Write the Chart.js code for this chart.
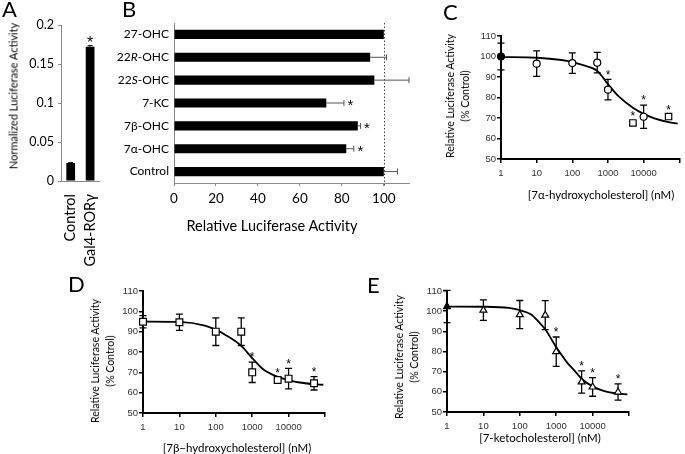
<!DOCTYPE html>
<html><head><meta charset="utf-8">
<script src="https://cdn.jsdelivr.net/npm/chart.js@4"></script>
<style>
html,body{margin:0;padding:0;background:#fff;}
body{width:685px;height:454px;position:relative;overflow:hidden;font-family:Lato,"Liberation Sans",sans-serif;color:#000;}
canvas{position:absolute;}
.t{position:absolute;white-space:nowrap;line-height:1;}
.c{transform:translate(-50%,-50%);}
.r{transform:translate(-50%,-50%) rotate(-90deg);text-align:center;}
.lt{font-size:22px;}
</style></head><body>
<canvas id="cA" width="115" height="275" style="left:0;top:0;width:115px;height:275px"></canvas>
<canvas id="cB" width="302" height="240" style="left:110px;top:0;width:302px;height:240px"></canvas>
<canvas id="cC" width="285" height="215" style="left:400px;top:0;width:285px;height:215px"></canvas>
<canvas id="cD" width="340" height="204" style="left:0;top:250px;width:340px;height:204px"></canvas>
<canvas id="cE" width="345" height="204" style="left:340px;top:250px;width:345px;height:204px"></canvas>

<div class="t lt" style="left:2px;top:-1.7px">A</div>
<div class="t lt" style="left:122px;top:-1.7px">B</div>
<div class="t lt" style="left:443px;top:1.3px">C</div>
<div class="t lt" style="left:68px;top:273.3px">D</div>
<div class="t lt" style="left:367px;top:274.3px">E</div>

<div class="t r" style="left:12.5px;top:96px;font-size:11px">Normalized Luciferase Activity</div>
<div class="t c" style="left:272px;top:226px;font-size:14.5px">Relative Luciferase Activity</div>
<div class="t r" style="left:457.5px;top:96px;font-size:10.5px;line-height:15px">Relative Luciferase Activity<br>(% Control)</div>
<div class="t c" style="left:601px;top:195px;font-size:11.5px">[7α-hydroxycholesterol] (nM)</div>
<div class="t r" style="left:102.5px;top:361px;font-size:10.5px;line-height:15px">Relative Luciferase Activity<br>(% Control)</div>
<div class="t c" style="left:237px;top:448px;font-size:11.5px">[7β−hydroxycholesterol] (nM)</div>
<div class="t r" style="left:407px;top:357px;font-size:10.5px;line-height:15px">Relative Luciferase Activity<br>(% Control)</div>
<div class="t c" style="left:540px;top:438px;font-size:11.5px">[7-ketocholesterol] (nM)</div>

<script>
// ---------- Data ----------
const aCategories = ['Control', 'Gal4-RORγ'];
const aValues = [0.023, 0.172];
const aErrors = [0.0006, 0.0015];
const aSignificant = [false, true];
const aTicks = [0, 0.05, 0.1, 0.15, 0.2];

const bCategories = ['27-OHC', '22R-OHC', '22S-OHC', '7-KC', '7β-OHC', '7α-OHC', 'Control'];
const bValues = [100, 93.5, 95.5, 72.6, 87.6, 82.1, 100];
const bErrors = [0, 7.8, 16.5, 8.4, 1.3, 3.6, 6.5];
const bSignificant = [false, false, false, true, true, true, false];
const bTicks = [0, 20, 40, 60, 80, 100];

const doseTicks = [1, 10, 100, 1000, 10000, 100000];
const doseLabels = ['1', '10', '100', '1000', '10000', ''];
const activityTicks = [50, 60, 70, 80, 90, 100, 110];

const cDoses = [1, 10, 100, 500, 1000, 5000, 10000, 50000];
const cValues = [100, 96.5, 96.8, 97, 83.8, 67.6, 70.6, 70.7];
const cErrors = [6.5, 6.2, 5, 5, 5, 1, 5.7, 1];
const cSignificant = [false, false, false, false, true, true, true, true];
const cFitDoses = [1, 10, 50, 100, 200, 500, 1000, 2000, 5000, 10000, 20000, 50000, 90000];
const cFitValues = [99.7, 99.4, 98.3, 97.3, 95.8, 93, 86.5, 80.5, 75, 72, 69.8, 68, 67.3];

const dDoses = [1, 10, 100, 500, 1000, 5000, 10000, 50000];
const dValues = [94.9, 94.6, 90, 90, 70, 66.2, 66.9, 64.6];
const dErrors = [3, 4, 6.8, 6.8, 5, 1, 5, 3.3];
const dSignificant = [false, false, false, false, true, true, true, true];
const dFitDoses = [1, 10, 50, 100, 200, 500, 1000, 2000, 5000, 10000, 20000, 50000, 90000];
const dFitValues = [95, 94.8, 93, 91, 88, 83, 77, 71.5, 67.8, 66.2, 65, 64.2, 63.9];

const eDoses = [1, 10, 100, 500, 1000, 5000, 10000, 50000];
const eValues = [102.3, 100.5, 98.3, 98, 79.9, 64.9, 62.4, 59.9];
const eErrors = [8, 5.1, 7, 7.2, 7.3, 5.5, 4.6, 4];
const eSignificant = [false, false, false, false, true, true, true, true];
const eFitDoses = [1, 10, 50, 100, 200, 360, 500, 1000, 2000, 3000, 5000, 10000, 20000, 50000, 90000];
const eFitValues = [102.3, 102.2, 101.6, 100.5, 98.5, 94, 91, 82.2, 74.5, 71, 66.5, 62.7, 60.5, 59.1, 58.7];

// ---------- Setup ----------
Chart.defaults.font.family = 'Lato, "Liberation Sans", sans-serif';
Chart.defaults.color = '#000';
Chart.defaults.animation = false;
Chart.defaults.events = [];
Chart.defaults.plugins.legend.display = false;
Chart.defaults.plugins.tooltip.enabled = false;

function valOf(d) { return (d !== null && typeof d === 'object') ? d.y : d; }

function drawErrors(chart, ds, meta) {
  const ctx = chart.ctx;
  const horizontal = chart.options.indexAxis === 'y';
  const vs = horizontal ? chart.scales.x : chart.scales.y;
  const cap = ds.errorCap || 3.5;
  ctx.save();
  ctx.strokeStyle = ds.errorColor || '#000';
  ctx.lineWidth = ds.errorWidth || 1.2;
  meta.data.forEach((el, i) => {
    const e = ds.errors[i];
    if (!e) return;
    const v = valOf(ds.data[i]);
    ctx.beginPath();
    if (horizontal) {
      const x0 = vs.getPixelForValue(v), x1 = vs.getPixelForValue(v + e);
      ctx.moveTo(x0, el.y); ctx.lineTo(x1, el.y);
      ctx.moveTo(x1, el.y - cap); ctx.lineTo(x1, el.y + cap);
    } else {
      const yTop = vs.getPixelForValue(v + e);
      const yBot = vs.getPixelForValue(ds.errorBoth ? v - e : v);
      ctx.moveTo(el.x, yTop); ctx.lineTo(el.x, yBot);
      ctx.moveTo(el.x - cap, yTop); ctx.lineTo(el.x + cap, yTop);
      if (ds.errorBoth) { ctx.moveTo(el.x - cap, yBot); ctx.lineTo(el.x + cap, yBot); }
    }
    ctx.stroke();
  });
  ctx.restore();
}

const errorBarPlugin = {
  id: 'errorBars',
  beforeDatasetDraw(chart, args) {
    const ds = chart.data.datasets[args.index];
    if (ds.errors && ds.errorsBehind) drawErrors(chart, ds, args.meta);
  },
  afterDatasetDraw(chart, args) {
    const ds = chart.data.datasets[args.index];
    if (ds.errors && !ds.errorsBehind) drawErrors(chart, ds, args.meta);
  }
};

const asteriskPlugin = {
  id: 'asterisks',
  afterDatasetsDraw(chart) {
    const ctx = chart.ctx;
    const horizontal = chart.options.indexAxis === 'y';
    const vs = horizontal ? chart.scales.x : chart.scales.y;
    chart.data.datasets.forEach((ds, di) => {
      if (!ds.significant) return;
      const meta = chart.getDatasetMeta(di);
      ctx.save();
      ctx.fillStyle = '#000';
      ctx.font = ds.starFont;
      ctx.textAlign = 'center';
      ctx.textBaseline = 'middle';
      meta.data.forEach((el, i) => {
        if (!ds.significant[i]) return;
        const v = valOf(ds.data[i]) + (ds.errors ? ds.errors[i] : 0);
        const p = vs.getPixelForValue(v);
        if (horizontal) ctx.fillText('*', p + ds.starGap, el.y + ds.starShift);
        else ctx.fillText('*', el.x, p - ds.starGap + ds.starShift);
      });
      ctx.restore();
    });
  }
};

const dottedLinePlugin = {
  id: 'dotted100',
  beforeDatasetsDraw(chart) {
    const ctx = chart.ctx, xs = chart.scales.x, a = chart.chartArea;
    const x = Math.round(xs.getPixelForValue(100)) + 0.5;
    ctx.save();
    ctx.strokeStyle = '#444';
    ctx.lineWidth = 1;
    ctx.setLineDash([1.5, 2]);
    ctx.beginPath(); ctx.moveTo(x, a.top); ctx.lineTo(x, a.bottom + 3); ctx.stroke();
    ctx.restore();
  }
};

const bLabelPlugin = {
  id: 'bLabels',
  afterDraw(chart) {
    const ctx = chart.ctx, ys = chart.scales.y;
    ctx.save();
    ctx.fillStyle = '#000';
    ctx.textBaseline = 'middle';
    ctx.textAlign = 'left';
    bCategories.forEach((label, i) => {
      const y = ys.getPixelForValue(i);
      const m = label.match(/^(\d+)([RS])(-.*)$/);
      const parts = m ? [[m[1], false], [m[2], true], [m[3], false]] : [[label, false]];
      const fontFor = it => (it ? 'italic ' : '') + '12px Lato, "Liberation Sans", sans-serif';
      const widths = parts.map(([t, it]) => { ctx.font = fontFor(it); return ctx.measureText(t).width; });
      let x = chart.chartArea.left - 5 - widths.reduce((s, w) => s + w, 0);
      parts.forEach(([t, it], k) => { ctx.font = fontFor(it); ctx.fillText(t, x, y); x += widths[k]; });
    });
    ctx.restore();
  }
};

// ---------- Panel A ----------
(function () {
  const W = 115, H = 275, area = { left: 61, right: 105, top: 25, bottom: 181 };
  new Chart(document.getElementById('cA'), {
    type: 'bar',
    data: {
      labels: aCategories,
      datasets: [{
        data: aValues, backgroundColor: '#000', borderWidth: 0,
        barPercentage: 0.45, categoryPercentage: 1,
        errors: aErrors, errorCap: 2.5, errorWidth: 1,
        significant: aSignificant, starFont: '16px "Liberation Sans"', starGap: 6, starShift: 4
      }]
    },
    options: {
      responsive: false,
      layout: { padding: { left: 0, top: area.top, right: W - area.right, bottom: 0 } },
      scales: {
        x: {
          grid: { display: false },
          border: { display: true, color: '#8a8a8a', width: 1 },
          ticks: { minRotation: 90, maxRotation: 90, autoSkip: false, padding: 5, font: { size: 14.5 }, color: '#000' },
          afterFit(s) { s.height = H - area.bottom; }
        },
        y: {
          min: 0, max: 0.2,
          afterBuildTicks(s) { s.ticks = aTicks.map(v => ({ value: v })); },
          ticks: { padding: 4, font: { size: 12.5 }, color: '#000', callback: v => String(Math.round(v * 100) / 100) },
          grid: { drawOnChartArea: false, tickLength: 3, color: '#8a8a8a' },
          border: { color: '#8a8a8a', width: 1 },
          afterFit(s) { s.width = area.left; }
        }
      }
    },
    plugins: [errorBarPlugin, asteriskPlugin]
  });
})();

// ---------- Panel B ----------
(function () {
  const W = 302, H = 240, area = { left: 64, right: 299, top: 23, bottom: 183 };
  new Chart(document.getElementById('cB'), {
    type: 'bar',
    data: {
      labels: bCategories,
      datasets: [{
        data: bValues, backgroundColor: '#000', borderWidth: 0,
        barPercentage: 0.4, categoryPercentage: 1,
        errors: bErrors, errorCap: 3, errorWidth: 1, errorColor: '#555',
        significant: bSignificant, starFont: '15px "Liberation Sans"', starGap: 6.5, starShift: 3
      }]
    },
    options: {
      indexAxis: 'y',
      responsive: false,
      layout: { padding: { left: 0, top: area.top, right: W - area.right, bottom: 0 } },
      scales: {
        x: {
          min: 0, max: 112,
          afterBuildTicks(s) { s.ticks = bTicks.map(v => ({ value: v })); },
          ticks: { padding: 5, font: { size: 13.5 }, color: '#000' },
          grid: { drawOnChartArea: false, tickLength: 3, color: '#8a8a8a' },
          border: { color: '#8a8a8a', width: 1 },
          afterFit(s) { s.height = H - area.bottom; }
        },
        y: {
          ticks: { display: false },
          grid: { display: false },
          border: { color: '#8a8a8a', width: 1 },
          afterFit(s) { s.width = area.left; }
        }
      }
    },
    plugins: [dottedLinePlugin, errorBarPlugin, asteriskPlugin, bLabelPlugin]
  });
})();

// ---------- Panels C, D, E ----------
function doseChart(id, W, H, area, doses, values, errors, sig, fitDoses, fitValues, pointStyle, radius, firstFilled) {
  new Chart(document.getElementById(id), {
    type: 'scatter',
    data: {
      datasets: [
        {
          data: doses.map((x, i) => ({ x: x, y: values[i] })),
          pointStyle: pointStyle,
          pointRadius: radius,
          pointBorderColor: '#000',
          pointBorderWidth: 1.2,
          pointBackgroundColor: ctx => (firstFilled && ctx.dataIndex === 0) ? '#000' : '#fff',
          clip: false,
          errors: errors, errorBoth: true, errorsBehind: true, errorCap: 3.5, errorWidth: 1.3,
          significant: sig, starFont: '12px "Liberation Sans"', starGap: 7, starShift: 3
        },
        {
          data: fitDoses.map((x, i) => ({ x: x, y: fitValues[i] })),
          showLine: true, pointRadius: 0, borderColor: '#000', borderWidth: 1.8,
          cubicInterpolationMode: 'monotone', clip: false
        }
      ]
    },
    options: {
      responsive: false,
      layout: { padding: { left: 0, top: area.top, right: W - area.right, bottom: 0 } },
      scales: {
        x: {
          type: 'logarithmic', min: 1, max: 100000,
          afterBuildTicks(s) { s.ticks = doseTicks.map(v => ({ value: v })); },
          ticks: { callback: (v, i) => doseLabels[i], autoSkip: false, maxRotation: 0, padding: 5,
                   font: { family: '"Liberation Sans", sans-serif', size: 9.5 }, color: '#333' },
          grid: { drawOnChartArea: false, tickLength: 4, lineWidth: 1.5, color: '#000' },
          border: { color: '#000', width: 2 },
          afterFit(s) { s.height = H - area.bottom; }
        },
        y: {
          min: 50, max: 110,
          afterBuildTicks(s) { s.ticks = activityTicks.map(v => ({ value: v })); },
          ticks: { padding: 1, font: { family: '"Liberation Sans", sans-serif', size: 9.5 }, color: '#333' },
          grid: { drawOnChartArea: false, tickLength: 4, lineWidth: 1.5, color: '#000' },
          border: { color: '#000', width: 2 },
          afterFit(s) { s.width = area.left; }
        }
      }
    },
    plugins: [errorBarPlugin, asteriskPlugin]
  });
}

doseChart('cC', 285, 215, { left: 101, right: 283, top: 36, bottom: 159 },
  cDoses, cValues, cErrors, cSignificant, cFitDoses, cFitValues,
  ctx => (cDoses[ctx.dataIndex] === 5000 || cDoses[ctx.dataIndex] === 50000) ? 'rect' : 'circle',
  ctx => (cDoses[ctx.dataIndex] === 5000 || cDoses[ctx.dataIndex] === 50000) ? 4.5 : 3.5, true);

doseChart('cD', 340, 204, { left: 143, right: 325, top: 41, bottom: 163 },
  dDoses, dValues, dErrors, dSignificant, dFitDoses, dFitValues, 'rect', 4.8, false);

doseChart('cE', 345, 204, { left: 107, right: 289, top: 41, bottom: 162 },
  eDoses, eValues, eErrors, eSignificant, eFitDoses, eFitValues, 'triangle', 4, true);
</script>
</body></html>
